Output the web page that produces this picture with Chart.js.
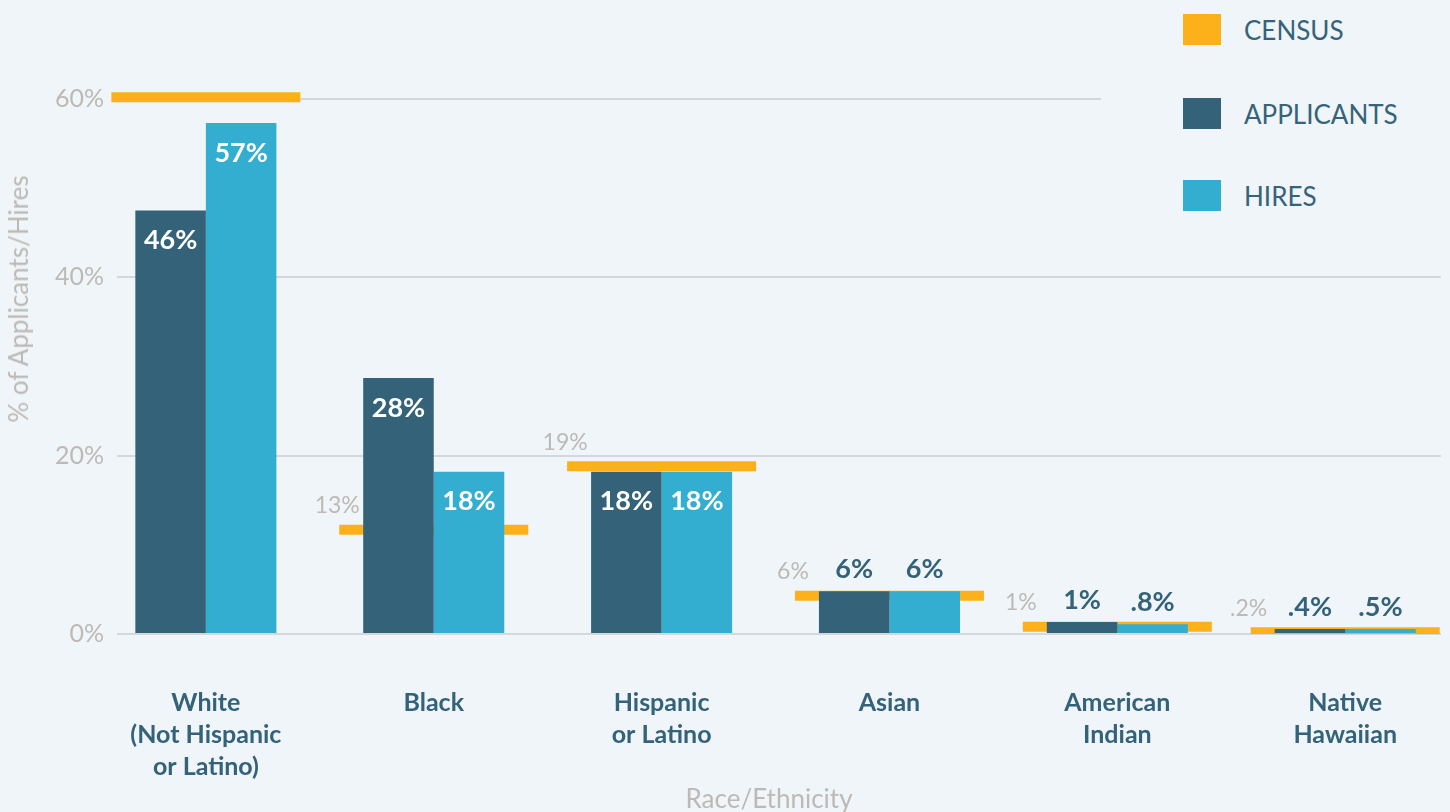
<!DOCTYPE html>
<html>
<head>
<meta charset="utf-8">
<script src="https://cdn.jsdelivr.net/npm/chart.js@4"></script>
<style>
  html, body { margin: 0; padding: 0; background: #eff5f8; overflow: hidden; }
  #wrap { position: relative; width: 1450px; height: 812px; font-family: 'Lato', 'Open Sans', sans-serif; }
  #chart { position: absolute; left: 0; top: 0; }
  .axis-title { position: absolute; color: #bdbab6; font-size: 26px; white-space: nowrap; transform: translate(-50%, -50%); }
  #y-title { left: 18px; top: 299px; transform: translate(-50%, -50%) rotate(-90deg); }
  #x-title { left: 769px; top: 798px; }
  #legend { position: absolute; left: 1101px; top: 0; width: 349px; height: 240px; background: #eff5f8; }
  .legend-item { position: absolute; left: 82px; height: 31px; display: flex; align-items: center; }
  .legend-box { width: 38px; height: 31px; margin-right: 23px; }
  .legend-text { color: #36637a; font-size: 26px; }
</style>
</head>
<body>
<div id="wrap">
  <canvas id="chart" width="1450" height="812"></canvas>
  <div class="axis-title" id="y-title">% of Applicants/Hires</div>
  <div class="axis-title" id="x-title">Race/Ethnicity</div>
  <div id="legend"></div>
</div>
<script>
// ── Data ─────────────────────────────────────────────────────
const categories = [
    ['White', '(Not Hispanic', 'or Latino)'],
    ['Black'],
    ['Hispanic', 'or Latino'],
    ['Asian'],
    ['American', 'Indian'],
    ['Native', 'Hawaiian'],
];
const censusValues = [60.2, 11.7, 18.8, 4.3, 0.8, 0.2];
const applicantValues = [47.5, 28.7, 18.2, 4.8, 1.35, 0.55];
const hireValues = [57.3, 18.2, 18.2, 4.8, 1.1, 0.56];
const censusLabels = ['', '13%', '19%', '6%', '1%', '.2%'];
const applicantLabels = ['46%', '28%', '18%', '6%', '1%', '.4%'];
const hireLabels = ['57%', '18%', '18%', '6%', '.8%', '.5%'];
const yTicks = [0, 20, 40, 60];

// ── Colors ───────────────────────────────────────────────────
const ORANGE = '#fcb01a';
const NAVY = '#346278';
const CYAN = '#34aed0';
const GRAY = '#bdbab6';
const FONT = "'Lato', 'Open Sans', sans-serif";

const toPoints = vals => vals.map((v, i) => ({ x: i, y: v }));

// ── Value labels drawn over the marks ────────────────────────
const valueLabels = {
    id: 'valueLabels',
    afterDatasetsDraw(chart) {
        const ctx = chart.ctx;
        ctx.save();
        ctx.textAlign = 'center';
        ctx.textBaseline = 'middle';

        // bar labels: inside for tall bars, above for short ones
        [[1, applicantValues, applicantLabels], [2, hireValues, hireLabels]].forEach(([di, vals, labels]) => {
            chart.getDatasetMeta(di).data.forEach((bar, i) => {
                ctx.font = `bold 27px ${FONT}`;
                if (vals[i] >= 10) {
                    ctx.fillStyle = '#ffffff';
                    ctx.fillText(labels[i], bar.x, bar.y + 30);
                } else {
                    ctx.fillStyle = NAVY;
                    ctx.fillText(labels[i], bar.x, bar.y - 22);
                }
            });
        });

        // census labels, left of the marker
        const r = chart.data.datasets[0].pointRadius;
        chart.getDatasetMeta(0).data.forEach((pt, i) => {
            if (!censusLabels[i]) return;
            ctx.font = `23px ${FONT}`;
            ctx.fillStyle = GRAY;
            ctx.fillText(censusLabels[i], pt.x - r - 2, pt.y - 24);
        });
        ctx.restore();
    }
};

// ── Chart ────────────────────────────────────────────────────
const chart = new Chart(document.getElementById('chart'), {
    type: 'bar',
    data: {
        datasets: [
            {
                type: 'line',
                label: 'CENSUS',
                data: toPoints(censusValues),
                showLine: false,
                pointStyle: 'line',
                pointRadius: 94.5,
                pointHoverRadius: 94.5,
                pointBorderWidth: 10,
                pointBorderColor: ORANGE,
                pointBackgroundColor: ORANGE,
                borderColor: ORANGE,
                backgroundColor: ORANGE,
                order: 3,
                clip: { left: false, top: false, right: false, bottom: 0 },
            },
            {
                label: 'APPLICANTS',
                data: toPoints(applicantValues),
                backgroundColor: NAVY,
                categoryPercentage: 0.619,
                barPercentage: 1.0,
                order: 1,
            },
            {
                label: 'HIRES',
                data: toPoints(hireValues),
                backgroundColor: CYAN,
                categoryPercentage: 0.619,
                barPercentage: 1.0,
                order: 1,
            },
        ],
    },
    options: {
        responsive: false,
        animation: false,
        layout: { autoPadding: false, padding: { top: 99, left: 0, right: 0, bottom: 0 } },
        plugins: { legend: { display: false }, tooltip: { enabled: false } },
        scales: {
            x: {
                type: 'linear',
                offset: false,
                min: -0.39,
                max: 5.42,
                grid: { display: false, drawTicks: false },
                border: { display: false },
                afterBuildTicks: scale => { scale.ticks = categories.map((_, i) => ({ value: i })); },
                afterFit: scale => { scale.height = 178; },
                ticks: {
                    autoSkip: false,
                    maxRotation: 0,
                    padding: 53,
                    color: NAVY,
                    font: { family: FONT, size: 25, weight: 'bold', lineHeight: '32px' },
                    callback: v => categories[v],
                },
            },
            y: {
                min: 0,
                max: 60,
                grid: { color: '#d5d8da', lineWidth: 2, drawTicks: false },
                border: { display: false },
                afterBuildTicks: scale => { scale.ticks = yTicks.map(v => ({ value: v })); },
                afterFit: scale => { scale.width = 117; },
                ticks: {
                    padding: 13,
                    color: GRAY,
                    font: { family: FONT, size: 25 },
                    callback: v => v + '%',
                },
            },
        },
    },
    plugins: [valueLabels],
});

// ── HTML legend ──────────────────────────────────────────────
const legendEl = document.getElementById('legend');
const legendTops = [14, 98, 180];
chart.data.datasets.forEach((ds, i) => {
    const item = document.createElement('div');
    item.className = 'legend-item';
    item.style.top = legendTops[i] + 'px';
    item.innerHTML = `<div class="legend-box" style="background:${ds.backgroundColor}"></div><span class="legend-text">${ds.label}</span>`;
    legendEl.appendChild(item);
});
</script>
</body>
</html>
